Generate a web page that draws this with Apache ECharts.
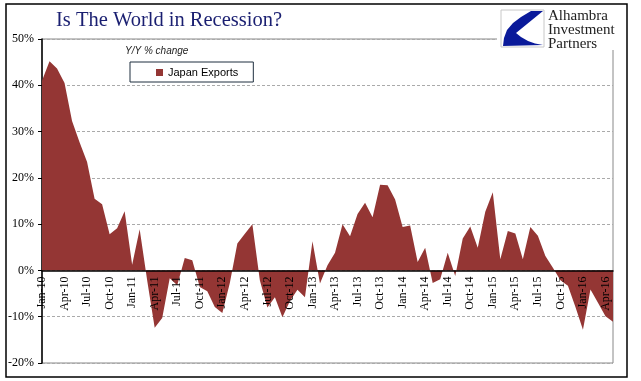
<!DOCTYPE html>
<html>
<head>
<meta charset="utf-8">
<script src="https://cdn.jsdelivr.net/npm/echarts@6/dist/echarts.min.js"></script>
<style>html,body{margin:0;padding:0;background:#fff;}#c{width:641px;height:381px;}</style>
</head>
<body>
<div id="c"></div>
<script>
var months = [
 'Jan-10','Feb-10','Mar-10','Apr-10','May-10','Jun-10','Jul-10','Aug-10','Sep-10','Oct-10','Nov-10','Dec-10',
 'Jan-11','Feb-11','Mar-11','Apr-11','May-11','Jun-11','Jul-11','Aug-11','Sep-11','Oct-11','Nov-11','Dec-11',
 'Jan-12','Feb-12','Mar-12','Apr-12','May-12','Jun-12','Jul-12','Aug-12','Sep-12','Oct-12','Nov-12','Dec-12',
 'Jan-13','Feb-13','Mar-13','Apr-13','May-13','Jun-13','Jul-13','Aug-13','Sep-13','Oct-13','Nov-13','Dec-13',
 'Jan-14','Feb-14','Mar-14','Apr-14','May-14','Jun-14','Jul-14','Aug-14','Sep-14','Oct-14','Nov-14','Dec-14',
 'Jan-15','Feb-15','Mar-15','Apr-15','May-15','Jun-15','Jul-15','Aug-15','Sep-15','Oct-15','Nov-15','Dec-15',
 'Jan-16','Feb-16','Mar-16','Apr-16','May-16'
];
var japanExports = [
 41.0, 45.2, 43.6, 40.5, 32.3, 27.7, 23.4, 15.5, 14.3, 7.8, 9.1, 12.8,
 1.2, 8.9, -2.2, -12.4, -10.3, -1.7, -3.2, 2.7, 2.2, -3.6, -4.5, -7.9,
 -9.2, -2.7, 5.8, 7.9, 10.0, -2.2, -8.0, -5.8, -10.1, -6.6, -4.2, -5.8,
 6.3, -2.8, 1.1, 3.8, 10.0, 7.4, 12.2, 14.6, 11.5, 18.5, 18.4, 15.3,
 9.4, 9.7, 1.8, 4.9, -2.7, -1.9, 3.8, -1.2, 6.9, 9.5, 4.9, 12.7,
 16.9, 2.4, 8.5, 8.0, 2.4, 9.4, 7.5, 3.1, 0.6, -2.1, -3.3, -7.9,
 -12.8, -4.1, -7.0, -9.9, -11.1
];
var seriesName = 'Japan Exports';
var titleText = 'Is The World in Recession?';
var subText = 'Y/Y % change';
var logoLines = ['Alhambra', 'Investment', 'Partners'];
var yMin = -20, yMax = 50, yStep = 10;

var chart = echarts.init(document.getElementById('c'), null, {renderer: 'canvas'});
var serif = '"Liberation Serif", "Times New Roman", serif';
var sans = '"Liberation Sans", Arial, sans-serif';
var red = '#943634';

var option = {
  backgroundColor: '#fff',
  animation: false,
  title: {
    text: titleText,
    left: 56, top: 10, padding: 0,
    textStyle: {fontFamily: serif, fontSize: 20.5, fontWeight: 'normal', color: '#1A1F71'}
  },
  legend: {
    left: 130, top: 62,
    padding: [5, 15, 4, 26],
    backgroundColor: '#fff',
    borderColor: '#1f2f3f', borderWidth: 1,
    itemWidth: 7, itemHeight: 7, itemGap: 4,
    textStyle: {fontFamily: sans, fontSize: 11, color: '#000'},
    data: [{name: seriesName, icon: 'rect'}]
  },
  grid: {left: 42, right: 28, top: 39, bottom: 18, outerBoundsMode: 'none', containLabel: false,
         show: true, borderColor: '#888', borderWidth: 1, backgroundColor: 'transparent'},
  xAxis: {
    type: 'category',
    data: months,
    boundaryGap: false,
    position: 'bottom',
    offset: 0,
    z: 5,
    axisLine: {onZero: false, lineStyle: {color: '#000', width: 1.5}},
    axisTick: {show: false},
    axisLabel: {interval: 2, rotate: 90, margin: 6, fontFamily: serif, fontSize: 12, color: '#000'},
    splitLine: {show: false}
  },
  yAxis: {
    type: 'value',
    min: yMin, max: yMax, interval: yStep,
    axisLine: {show: true, lineStyle: {color: '#000', width: 1.5}},
    axisTick: {show: true, length: 4, lineStyle: {color: '#000'}},
    axisLabel: {formatter: '{value}%', margin: 8, fontFamily: serif, fontSize: 12, color: '#000'},
    splitLine: {show: true, lineStyle: {color: '#aaa', type: [3, 2], width: 1}}
  },
  series: [{
    name: seriesName,
    type: 'line',
    data: japanExports,
    symbol: 'none',
    lineStyle: {width: 0, color: red},
    itemStyle: {color: red},
    areaStyle: {color: red, opacity: 1},
    z: 2
  }],
  graphic: [
    {type: 'rect', z: 100, silent: true, shape: {x: 6, y: 4, width: 621, height: 373}, style: {fill: 'none', stroke: '#000', lineWidth: 1.5}},
    {type: 'rect', z: 100, silent: true, shape: {x: 497, y: 30, width: 128, height: 20}, style: {fill: '#fff'}},
    {type: 'rect', z: 101, silent: true, shape: {x: 501, y: 10, width: 43, height: 37}, style: {fill: '#fff', stroke: '#c8c8c8', lineWidth: 1}},
    {type: 'polygon', z: 102, silent: true, shape: {points: [[531,11],[543,11],[516,33],[521,37],[528,41],[535,43.5],[543,45],[503,46],[504,38],[507,30],[513,23],[521,17]]}, style: {fill: '#0A1A9A'}},
    {type: 'text', z: 102, silent: true, x: 548, y: 9, style: {text: logoLines.join('\n'), font: '15px ' + serif, lineHeight: 14, fill: '#222'}},
    {type: 'text', z: 100, silent: true, x: 125, y: 46, style: {text: subText, font: 'italic 10px ' + sans, fill: '#222'}}
  ]
};
chart.setOption(option);
// move the category axis (line + labels) up to the zero line of the value axis
var yZero = chart.convertToPixel({yAxisIndex: 0}, 0);
var yBottom = chart.convertToPixel({yAxisIndex: 0}, yMin);
chart.setOption({xAxis: {offset: -(yBottom - yZero)}});
</script>
</body>
</html>
